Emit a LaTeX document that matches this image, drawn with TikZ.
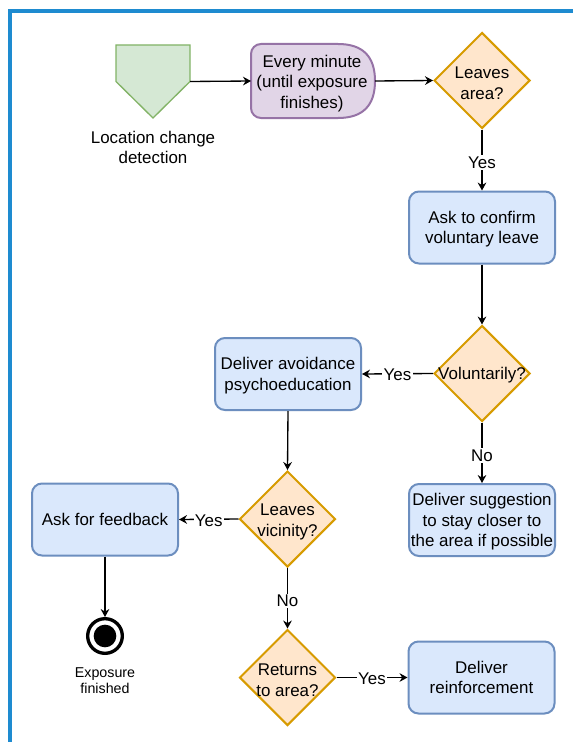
\documentclass[tikz,border=0pt]{standalone}
\usepackage{fontspec}
\setmainfont{Liberation Sans}
\usetikzlibrary{arrows.meta,shapes.geometric}
\definecolor{frameblue}{HTML}{1E8BD0}
\definecolor{greenfill}{HTML}{D5E8D4}
\definecolor{greenline}{HTML}{82B366}
\definecolor{purplefill}{HTML}{E1D5E7}
\definecolor{purpleline}{HTML}{9673A6}
\definecolor{orangefill}{HTML}{FFE6CC}
\definecolor{orangeline}{HTML}{D79B00}
\definecolor{bluefill}{HTML}{DAE8FC}
\definecolor{blueline}{HTML}{6C8EBF}
\begin{document}
\begin{tikzpicture}[x=0.75pt,y=-0.75pt,
  txt/.style={font=\fontsize{12.7}{15.4}\selectfont, align=center, inner sep=0pt},
  small/.style={font=\fontsize{10.7}{12}\selectfont, align=center, inner sep=0pt},
  procbox/.style={txt, draw=blueline, fill=bluefill, line width=1.5pt,
    rounded corners=7.5pt, minimum width=109.5pt, minimum height=54pt,
    text depth=-4.2pt},
  decision/.style={diamond, draw=orangeline, fill=orangefill, line width=1.5pt,
    minimum width=72pt, minimum height=72pt, inner sep=0pt},
  hidden/.style={inner sep=0pt, outer sep=0pt},
  edge/.style={line width=1pt, -{Stealth[length=6pt,width=6.5pt,inset=2pt]}},
  elbl/.style={txt, fill=white, inner sep=1pt, yshift=-0.8pt},
  vlbl/.style={elbl, yshift=-1.2pt},
]
% canvas and clipped outer frame
\useasboundingbox (0,0) rectangle (573,742);
\clip (0,0) rectangle (573,742);
\fill[white] (0,0) rectangle (573,742);
\draw[frameblue, line width=2.3pt] (10,11) rectangle (640,800);

% trigger: off-page connector
\node[hidden, minimum width=55.5pt, minimum height=54.75pt] (src) at (153,81.5) {};
\draw[greenline, fill=greenfill, line width=1pt]
  (src.north west) -- (src.north east) -- (src.east) -- (src.south) -- (src.west) -- cycle;
\node[txt] (srclabel) at (153,147.5) {Location change\\detection};

% timer: delay shape
\node[hidden, minimum width=93pt, minimum height=55.5pt] (timer) at (313,81) {};
\draw[purpleline, fill=purplefill, line width=1.5pt]
  (300,44) -- (338,44) .. controls (362.7,44) and (375,56.3) .. (375,81)
  .. controls (375,105.7) and (362.7,118) .. (338,118)
  [rounded corners=7.5pt] -- (251,118) -- (251,44) -- cycle;
\node[txt] (timertext) at (312,83.5) {Every minute\\(until exposure\\finishes)};

% decisions
\node[decision] (leavesarea) at (482,80.5) {};
\node[txt] (leavesareatext) at (482,83.5) {Leaves\\area?};
\node[decision] (voluntarily) at (482,373.5) {};
\node[txt] (voluntarilytext) at (482,375.5) {Voluntarily?};
\node[decision] (vicinity) at (287.5,519) {};
\node[txt] (vicinitytext) at (287.5,522) {Leaves\\vicinity?};
\node[decision] (returns) at (287.5,677.5) {};
\node[txt] (returnstext) at (287.5,680) {Returns\\to area?};

% actions
\node[procbox] (confirm) at (482,227.5) {Ask to confirm\\voluntary leave};
\node[procbox] (avoid) at (288,374) {Deliver avoidance\\psychoeducation};
\node[procbox] (suggest) at (482,520) {Deliver suggestion\\to stay closer to\\the area if possible};
\node[procbox, text depth=-2.2pt] (feedback) at (105,519.5) {Ask for feedback};
\node[procbox] (reinf) at (481.5,677.5) {Deliver\\reinforcement};

% final state
\node[circle, draw=black, line width=2.5pt, fill=white, minimum size=26pt, inner sep=0pt] (endstate) at (105,636) {};
\fill[black] (endstate.center) circle[radius=8.5pt];
\node[small] (endlabel) at (105,680.5) {Exposure\\finished};

% connectors
\draw[edge] (src.east) -- (timer.west);
\draw[edge] (timer.east) -- (leavesarea.west);
\draw[edge] (leavesarea.south) -- node[vlbl]{Yes} (confirm.north);
\draw[edge] (confirm.south) -- (voluntarily.north);
\draw[edge] (voluntarily.west) -- node[elbl]{Yes} (avoid.east);
\draw[edge] (voluntarily.south) -- node[vlbl]{No} (suggest.north);
\draw[edge] (avoid.south) -- (vicinity.north);
\draw[edge] (vicinity.west) -- node[elbl]{Yes} (feedback.east);
\draw[edge] (vicinity.south) -- node[vlbl]{No} (returns.north);
\draw[edge] (feedback.south) -- (endstate.north);
\draw[edge] (returns.east) -- node[elbl]{Yes} (reinf.west);
\end{tikzpicture}
\end{document}
